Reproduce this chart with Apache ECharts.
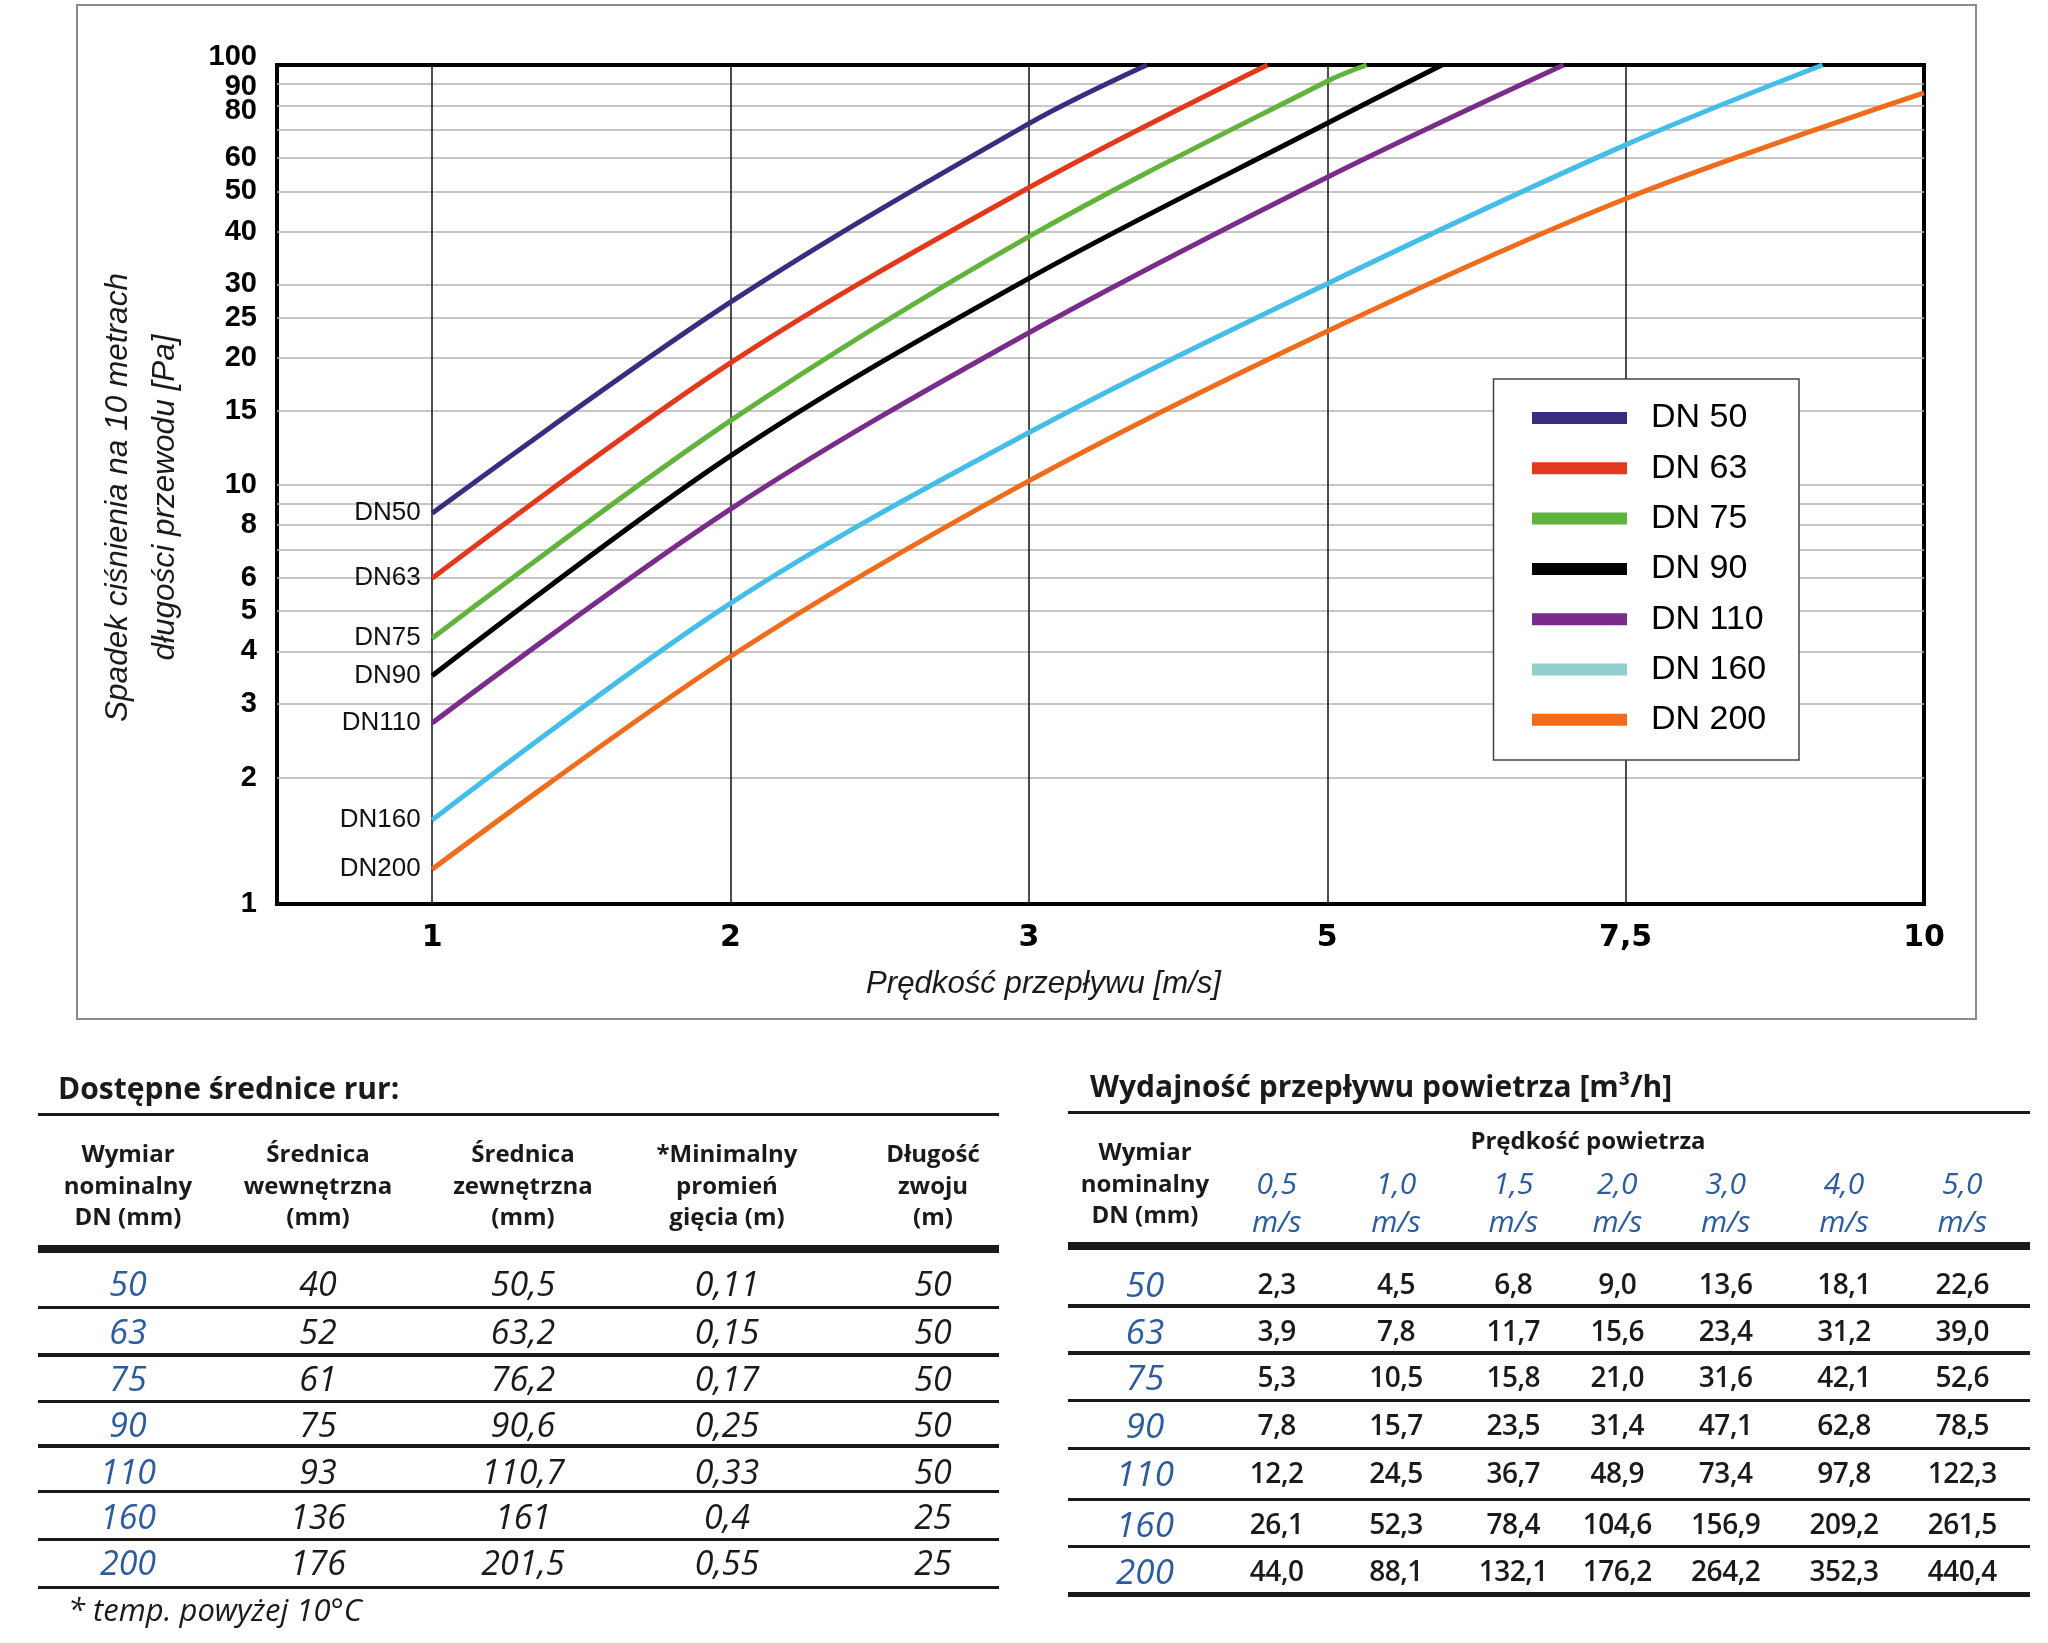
<!DOCTYPE html>
<html>
<head>
<meta charset="utf-8">
<script src="https://cdn.jsdelivr.net/npm/echarts@6/dist/echarts.min.js"></script>
<style>
html,body{margin:0;padding:0;background:#fff;}
#wrap{position:relative;width:2048px;height:1643px;overflow:hidden;background:#fff;}
#chart{position:absolute;left:0;top:0;width:2048px;height:1643px;}
#tables{position:absolute;left:0;top:0;width:2048px;height:1643px;pointer-events:none;font-family:'Open Sans',sans-serif;color:#1a1a1a;}
.t{position:absolute;white-space:nowrap;line-height:1;}
.r{position:absolute;background:#1a1a1a;}
</style>
</head>
<body>
<div id="wrap"><div id="chart"></div><div id="tables"></div></div>
<script>
// ---------------- DATA ----------------
const velocityTicks = [1, 2, 3, 5, 7.5, 10];
const velocityTickLabels = ['1', '2', '3', '5', '7,5', '10'];
const pressureTickLabels = [1, 2, 3, 4, 5, 6, 8, 10, 15, 20, 25, 30, 40, 50, 60, 80, 90, 100];
const pressureGridValues = [2, 3, 4, 5, 6, 7, 8, 9, 10, 15, 20, 25, 30, 40, 50, 60, 70, 80, 90];
const seriesNames = ['DN 50', 'DN 63', 'DN 75', 'DN 90', 'DN 110', 'DN 160', 'DN 200'];
const startLabels = ['DN50', 'DN63', 'DN75', 'DN90', 'DN110', 'DN160', 'DN200'];
// [velocity m/s, pressure drop Pa per 10 m]
const dn50  = [[1, 8.54], [2, 27.2], [3, 72.5], [3.79, 100]];
const dn63  = [[1, 5.98], [2, 19.5], [3, 51.0], [4.60, 100]];
const dn75  = [[1, 4.30], [2, 14.2], [3, 39.0], [5, 91.5], [5.33, 100]];
const dn90  = [[1, 3.50], [2, 11.7], [3, 31.0], [5, 72.6], [5.96, 100]];
const dn110 = [[1, 2.70], [2, 8.74], [3, 23.0], [5, 54.0], [6.98, 100]];
const dn160 = [[1, 1.585], [2, 5.21], [3, 13.3], [5, 30.1], [7.5, 64.5], [9.15, 100]];
const dn200 = [[1, 1.21], [2, 3.89], [3, 10.2], [5, 23.2], [7.5, 48.0], [10, 85.8]];
const curves = [dn50, dn63, dn75, dn90, dn110, dn160, dn200];

const lineColors   = ['#3d2b7f', '#e2391d', '#62b33c', '#000000', '#7a2c8b', '#45bde9', '#ee6c1c'];
const legendColors = ['#3d2b7f', '#e2391d', '#62b33c', '#000000', '#7a2c8b', '#8fcfcc', '#ee6c1c'];

const xAxisName = 'Prędkość przepływu [m/s]';
const yAxisNameLines = ['Spadek ciśnienia na 10 metrach', 'długości przewodu [Pa]'];

// table 1
const pipeTitle = 'Dostępne średnice rur:';
const pipeHeader = [
  ['Wymiar', 'nominalny', 'DN (mm)'],
  ['Średnica', 'wewnętrzna', '(mm)'],
  ['Średnica', 'zewnętrzna', '(mm)'],
  ['*Minimalny', 'promień', 'gięcia (m)'],
  ['Długość', 'zwoju', '(m)']
];
const pipeDN    = ['50', '63', '75', '90', '110', '160', '200'];
const pipeInner = ['40', '52', '61', '75', '93', '136', '176'];
const pipeOuter = ['50,5', '63,2', '76,2', '90,6', '110,7', '161', '201,5'];
const pipeBend  = ['0,11', '0,15', '0,17', '0,25', '0,33', '0,4', '0,55'];
const pipeCoil  = ['50', '50', '50', '50', '50', '25', '25'];
const footnote  = '* temp. powyżej 10°C';

// table 2
const flowTitle = 'Wydajność przepływu powietrza [m³/h]';
const flowDNHeader = ['Wymiar', 'nominalny', 'DN (mm)'];
const flowSpeedCaption = 'Prędkość powietrza';
const flowSpeeds = ['0,5', '1,0', '1,5', '2,0', '3,0', '4,0', '5,0'];
const flowDN = ['50', '63', '75', '90', '110', '160', '200'];
const flow50  = ['2,3', '4,5', '6,8', '9,0', '13,6', '18,1', '22,6'];
const flow63  = ['3,9', '7,8', '11,7', '15,6', '23,4', '31,2', '39,0'];
const flow75  = ['5,3', '10,5', '15,8', '21,0', '31,6', '42,1', '52,6'];
const flow90  = ['7,8', '15,7', '23,5', '31,4', '47,1', '62,8', '78,5'];
const flow110 = ['12,2', '24,5', '36,7', '48,9', '73,4', '97,8', '122,3'];
const flow160 = ['26,1', '52,3', '78,4', '104,6', '156,9', '209,2', '261,5'];
const flow200 = ['44,0', '88,1', '132,1', '176,2', '264,2', '352,3', '440,4'];
const flowValues = [flow50, flow63, flow75, flow90, flow110, flow160, flow200];

// ---------------- HELPERS ----------------
// the velocity axis is drawn with equally spaced ticks: map velocity to tick-index position
function velToPos(v) {
  for (let i = 0; i < velocityTicks.length - 1; i++) {
    const a = velocityTicks[i], b = velocityTicks[i + 1];
    if (v <= b || i === velocityTicks.length - 2) return i + (v - a) / (b - a);
  }
  return 0;
}
function fitFont(text, family, style, weight, maxSize, targetWidth) {
  const c = document.createElement('canvas').getContext('2d');
  c.font = style + ' ' + weight + ' 100px ' + family;
  const w = c.measureText(text).width;
  return Math.min(maxSize, targetWidth * 100 / w);
}

const narrowFamily = "'Liberation Sans Narrow', 'Liberation Sans', Arial, sans-serif";
const xNameSize = fitFont(xAxisName, narrowFamily, 'italic', 'normal', 37, 355);
const yNameSize = fitFont(yAxisNameLines[0], narrowFamily, 'italic', 'normal', 37, 449);

// ---------------- CHART ----------------
const chart = echarts.init(document.getElementById('chart'), null, { renderer: 'canvas' });

const gridLineData = pressureGridValues.map(v => ({ yAxis: v, lineStyle: { color: '#b3b3b3', width: 1.5, type: 'solid' } }))
  .concat(velocityTicks.slice(0, 5).map(v => ({ xAxis: velToPos(v), lineStyle: { color: '#111', width: 1.5, type: 'solid' } })));

const series = seriesNames.map((name, i) => {
  const pts = curves[i].map(p => [velToPos(p[0]), p[1]]);
  const s = {
    name: name,
    type: 'line',
    smooth: 0.34,
    showSymbol: false,
    symbol: 'none',
    clip: true,
    z: 2,
    animation: false,
    xAxisIndex: 0,
    yAxisIndex: 0,
    data: pts,
    lineStyle: { color: lineColors[i], width: 5 },
    itemStyle: { color: lineColors[i] },
    emphasis: { disabled: true },
    markPoint: {
      symbol: 'circle', symbolSize: 1, silent: true, animation: false,
      itemStyle: { color: 'rgba(0,0,0,0)' },
      data: [{
        coord: pts[0],
        label: {
          show: true, position: 'left', distance: 11, formatter: startLabels[i],
          color: '#111', fontSize: 26, fontFamily: "'Liberation Sans', Arial, sans-serif"
        }
      }]
    }
  };
  if (i === 0) {
    s.markLine = {
      z: 1, silent: true, animation: false, symbol: ['none', 'none'],
      label: { show: false }, emphasis: { disabled: true },
      data: gridLineData
    };
  }
  return s;
});

// The tick labels near the top are crowded; each crowded label gets its own overlaid
// log axis (same scale) so the overlap-hiding of the axis does not drop any of them.
const yLabelGroups = [
  pressureTickLabels.filter(v => v < 90),
  pressureTickLabels.filter(v => v === 90),
  pressureTickLabels.filter(v => v === 100)
];
const yLabelRich = {
  up: { padding: [0, 0, 16, 0] },
  dn: { padding: [5, 0, 0, 0] },
  dn2: { padding: [10, 0, 0, 0] }
};
const yAxes = yLabelGroups.map((vals, gi) => ({
  type: 'log', logBase: 10, min: 1, max: 100, position: 'left', offset: 0,
  axisLine: { show: false }, axisTick: { show: false }, splitLine: { show: false }, minorSplitLine: { show: false },
  axisLabel: {
    customValues: vals,
    showMinLabel: true, showMaxLabel: true,
    formatter: v => {
      const r = Math.round(v);
      if (r === 100) return '{up|100}';
      if (r === 90) return '{dn|90}';
      if (r === 80) return '{dn2|80}';
      return String(r);
    },
    rich: yLabelRich,
    fontSize: 29, fontWeight: 'bold', color: '#000', margin: 20,
    fontFamily: "'Liberation Sans', Arial, sans-serif"
  }
}));

const option = {
  animation: false,
  backgroundColor: '#ffffff',
  grid: {
    left: 277, right: 124, top: 65, bottom: 739,
    show: true, borderColor: '#000', borderWidth: 4, backgroundColor: 'transparent'
  },
  xAxis: {
    type: 'value', min: -0.52, max: 5,
    axisLine: { show: false }, axisTick: { show: false }, splitLine: { show: false },
    axisLabel: {
      customValues: velocityTickLabels.map((_, i) => i),
      showMinLabel: true, showMaxLabel: true,
      formatter: v => velocityTickLabels[Math.round(v)],
      fontSize: 30, fontWeight: 'bold', color: '#000', margin: 19,
      fontFamily: "'DejaVu Sans', sans-serif"
    }
  },
  yAxis: yAxes,
  legend: {
    orient: 'vertical', left: 1532, top: 401, padding: 0, z: 10,
    itemWidth: 95, itemHeight: 12, itemGap: 16.3, icon: 'rect', selectedMode: false,
    textStyle: { fontSize: 34, lineHeight: 34, color: '#000', fontFamily: "'Liberation Sans', Arial, sans-serif", padding: [0, 0, 0, 19] },
    data: seriesNames.map((n, i) => ({ name: n, icon: 'rect', itemStyle: { color: legendColors[i] } }))
  },
  graphic: [
    { type: 'rect', z: 0, silent: true, shape: { x: 77, y: 5, width: 1899, height: 1014 },
      style: { fill: 'none', stroke: '#8a8a8a', lineWidth: 2 } },
    { type: 'rect', z: 8, silent: true, shape: { x: 1493.5, y: 379, width: 305.5, height: 381 },
      style: { fill: '#ffffff', stroke: '#444', lineWidth: 1.5 } },
    { type: 'text', z: 5, silent: true, x: 1043.5, y: 984,
      style: { text: xAxisName, fontSize: xNameSize, fontStyle: 'italic', fontFamily: narrowFamily, fill: '#1a1a1a',
        align: 'center', verticalAlign: 'middle', textAlign: 'center', textVerticalAlign: 'middle' } },
    { type: 'text', z: 5, silent: true, x: 141.5, y: 497.5, rotation: Math.PI / 2,
      style: { text: yAxisNameLines.join('\n'), fontSize: yNameSize, lineHeight: 47, fontStyle: 'italic', fontFamily: narrowFamily, fill: '#1a1a1a',
        align: 'center', verticalAlign: 'middle', textAlign: 'center', textVerticalAlign: 'middle' } }
  ],
  series: series
};
chart.setOption(option);

// ---------------- TABLES ----------------
const layer = document.getElementById('tables');
function addText(str, x, y, css, align) {
  const d = document.createElement('div');
  d.className = 't';
  d.textContent = str;
  const tx = align === 'left' ? '0' : '-50%';
  d.style.cssText = 'left:' + x + 'px;top:' + y + 'px;transform:translate(' + tx + ',-50%);' + (css || '');
  layer.appendChild(d);
}
function addRule(x1, x2, yc, h) {
  const d = document.createElement('div');
  d.className = 'r';
  d.style.cssText = 'left:' + x1 + 'px;top:' + (yc - h / 2) + 'px;width:' + (x2 - x1) + 'px;height:' + h + 'px;';
  layer.appendChild(d);
}
const BLUE = '#2d5c9e';
const titleCss = 'font-weight:700;font-size:30px;color:#1a1a1a;';
const headCss = 'font-weight:700;font-size:24px;color:#1a1a1a;';
const dnCss = 'font-style:italic;font-size:34px;color:' + BLUE + ';';

// left table
(function () {
  const x1 = 38, x2 = 999;
  const cols = [128, 318, 523, 727, 933];
  const headY = [1153, 1184.6, 1216.2];
  const rowY = [1283, 1330.7, 1378, 1424.4, 1471, 1515.6, 1562];
  const sepY = [1307.3, 1354.9, 1401.4, 1446, 1491.4, 1539.7, 1587.3];
  addText(pipeTitle, 58, 1088, titleCss, 'left');
  addRule(x1, x2, 1114, 3);
  pipeHeader.forEach((lines, c) => lines.forEach((ln, k) => addText(ln, cols[c], headY[k], headCss)));
  addRule(x1, x2, 1249, 8.5);
  const colsData = [pipeDN, pipeInner, pipeOuter, pipeBend, pipeCoil];
  rowY.forEach((y, r) => {
    colsData.forEach((arr, c) => {
      addText(arr[r], cols[c], y, c === 0 ? dnCss : 'font-style:italic;font-size:34px;color:#1a1a1a;');
    });
    addRule(x1, x2, sepY[r], 3.5);
  });
  addText(footnote, 68, 1608.5, 'font-style:italic;font-size:31px;color:#1a1a1a;', 'left');
})();

// right table
(function () {
  const x1 = 1068, x2 = 2030;
  const dnX = 1145;
  const cols = [1276.7, 1396, 1513.3, 1617.3, 1725.7, 1844, 1962.3];
  const headY = [1151, 1182.7, 1214.3];
  const rowY = [1283, 1329.6, 1376, 1423.7, 1472, 1523, 1570];
  const sepY = [1306, 1353, 1400.3, 1448.6, 1499.6, 1546.4, 1594.4];
  addText(flowTitle, 1090, 1086, titleCss, 'left');
  addRule(x1, x2, 1112, 3);
  flowDNHeader.forEach((ln, k) => addText(ln, dnX, headY[k], headCss));
  addText(flowSpeedCaption, 1588, 1140, headCss);
  flowSpeeds.forEach((s, c) => {
    addText(s, cols[c], 1182.7, 'font-style:italic;font-size:30px;color:' + BLUE + ';');
    addText('m/s', cols[c], 1221, 'font-style:italic;font-size:30px;color:' + BLUE + ';');
  });
  addRule(x1, x2, 1246, 8);
  rowY.forEach((y, r) => {
    addText(flowDN[r], dnX, y, 'font-style:italic;font-size:35px;color:' + BLUE + ';');
    flowValues[r].forEach((v, c) => addText(v, cols[c], y, 'font-weight:600;font-size:28px;letter-spacing:-0.5px;color:#1a1a1a;'));
    addRule(x1, x2, sepY[r], r === rowY.length - 1 ? 4.5 : 3.5);
  });
})();
</script>
</body>
</html>
